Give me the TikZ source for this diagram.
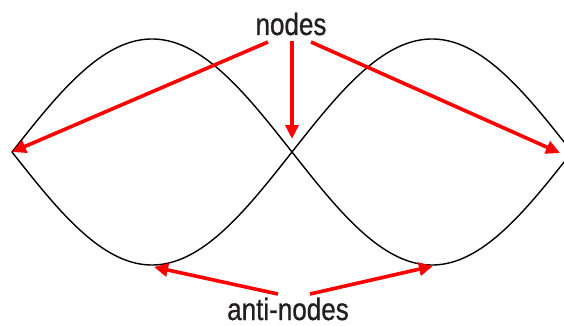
\documentclass[tikz,border=0pt]{standalone}
\usepackage{fontspec}
\newfontfamily\labfont[FakeStretch=0.84,FakeBold=0.8]{Liberation Sans}
\usetikzlibrary{arrows.meta}
\definecolor{txt}{HTML}{231F20}
\begin{document}
\begin{tikzpicture}[x=1pt,y=-1pt,
  wave/.style={line width=1.4pt,black},
  redarrow/.style={line width=3.6pt,red,-{Triangle[length=14pt,width=13pt]},shorten <=0pt},
  lab/.style={font=\labfont\fontsize{31}{33}\selectfont,text=txt,inner sep=0pt,anchor=base}]
\useasboundingbox (0,0) rectangle (564,326);
\draw[wave,domain=0:560,samples=240,smooth] plot ({12+\x},{152-113*sin(\x*0.642857)});
\draw[wave,domain=0:560,samples=240,smooth] plot ({12+\x},{152+113*sin(\x*0.642857)});
\node[lab] (nodes) at (291,35) {nodes};
\node[lab] (anti) at (288,320) {anti-nodes};
\coordinate (s1) at (268,42);
\coordinate (s2) at (292,41);
\coordinate (s3) at (311,42);
\coordinate (n1) at (12,152);
\coordinate (n2) at (292,139);
\coordinate (n3) at (560,153);
\coordinate (s4) at (278,294);
\coordinate (s5) at (310,294);
\coordinate (a1) at (154,267);
\coordinate (a2) at (433,266);
\draw[redarrow] (s1) -- (n1);
\draw[redarrow] (s2) -- (n2);
\draw[redarrow] (s3) -- (n3);
\draw[redarrow] (s4) -- (a1);
\draw[redarrow] (s5) -- (a2);
\end{tikzpicture}
\end{document}
